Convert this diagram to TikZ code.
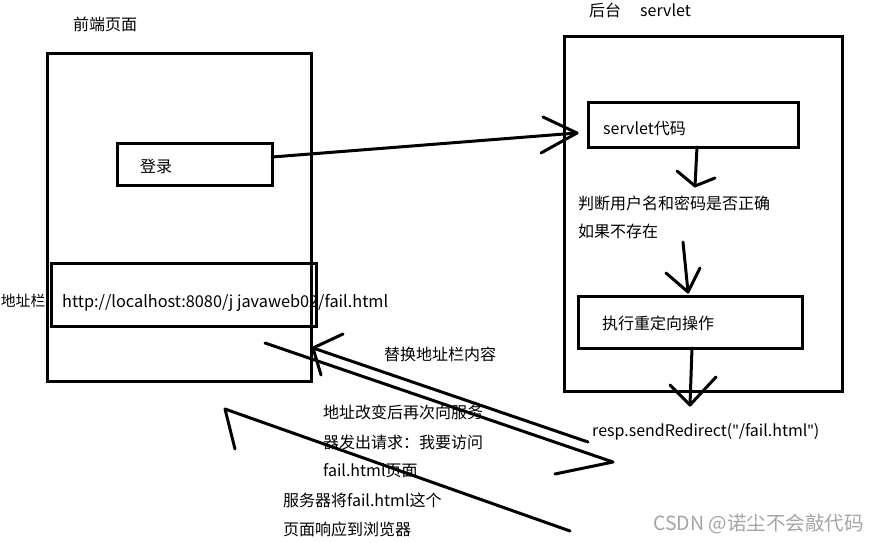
\documentclass[tikz,border=0pt]{standalone}
\usepackage{fontspec}
\setmainfont{Noto Sans CJK SC}
\newfontfamily\qfont{Noto Sans}
\definecolor{wmgray}{RGB}{165,165,165}
\begin{document}
\begin{tikzpicture}[x=1pt,y=-1pt,
  box/.style={draw, line width=3pt, inner sep=0pt},
  lbl/.style={inner sep=0pt, anchor=west, text height=12pt, text depth=0pt, font=\fontsize{16}{19}\selectfont},
  pen/.style={line width=3pt, line cap=round, line join=round}]
\useasboundingbox (0,0) rectangle (878,543);
\fill[white] (0,0) rectangle (878,543);
% boxes
\node[box, minimum width=264pt, minimum height=327pt] (front) at (179,217.5) {};
\node[box, minimum width=155pt, minimum height=42pt] (login) at (194.5,164) {};
\node[box, minimum width=265pt, minimum height=63pt] (addr) at (183.5,294.5) {};
\node[box, minimum width=278pt, minimum height=354pt] (back) at (703,214) {};
\node[box, minimum width=210pt, minimum height=45pt] (scode) at (693,124.5) {};
\node[box, minimum width=224pt, minimum height=52pt] (redir) at (690,322) {};
% texts
\node[lbl] (tfront) at (73,25) {前端页面};
\node[lbl] (tback) at (589,11) {后台};
\node[lbl] (tservlet) at (640,11) {servlet};
\node[lbl] (tlogin) at (140,166) {登录};
\node[lbl] (tscode) at (603,128) {servlet代码};
\node[lbl] (tjudge) at (578,203) {判断用户名和密码是否正确};
\node[lbl] (tnot) at (578,231) {如果不存在};
\node[lbl] (tredir) at (602,323) {执行重定向操作};
\node[lbl] (tresp) at (592,430) {resp.sendRedirect({\qfont"}/fail.html{\qfont"})};
\node[lbl, anchor=east, font=\fontsize{14.8}{18}\selectfont] (taddr) at (45.5,300) {地址栏};
\node[lbl, font=\fontsize{16.3}{19}\selectfont] (turl) at (62,301) {http://localhost:8080/j javaweb02/fail.html};
\node[lbl] (treplace) at (384,354) {替换地址栏内容};
\node[lbl] (treq1) at (323,412) {地址改变后再次向服务};
\node[lbl] (treq2) at (323,442) {器发出请求：我要访问};
\node[lbl] (treq3) at (323,470) {fail.html页面};
\node[lbl] (tres1) at (283,500) {服务器将fail.html这个};
\node[lbl] (tres2) at (283,529) {页面响应到浏览器};
\node[inner sep=0pt, anchor=west, text height=14pt, text depth=0pt, text=wmgray, font=\fontsize{19.5}{22}\selectfont] (wm) at (653,523) {CSDN @诺尘不会敲代码};
% arrow points
\coordinate (a1s) at (272,157); \coordinate (a1t) at (577,133);
\coordinate (a1u) at (543,117); \coordinate (a1l) at (541,153);
\coordinate (a2s) at (697,147); \coordinate (a2t) at (695,186);
\coordinate (a2u) at (677,171); \coordinate (a2l) at (715,178);
\coordinate (a3s) at (683,242); \coordinate (a3t) at (688,292);
\coordinate (a3u) at (666,273); \coordinate (a3l) at (700,268);
\coordinate (a4s) at (692,348); \coordinate (a4t) at (690,405);
\coordinate (a4u) at (670,385); \coordinate (a4l) at (716,377);
\coordinate (b1s) at (588,442); \coordinate (b1t) at (313,348);
\coordinate (b1u) at (343,334); \coordinate (b1l) at (321,375);
\coordinate (b2s) at (265,343); \coordinate (b2t) at (613,462);
\coordinate (b2l) at (555,474);
\coordinate (c1s) at (570,531); \coordinate (c1t) at (225,409);
\coordinate (c1l) at (235,449);
% connectors
\draw[pen] (a1s) -- (a1t); \draw[pen] (a1u) -- (a1t) -- (a1l);
\draw[pen] (a2s) -- (a2t); \draw[pen] (a2u) -- (a2t) -- (a2l);
\draw[pen] (a3s) -- (a3t); \draw[pen] (a3u) -- (a3t) -- (a3l);
\draw[pen] (a4s) -- (a4t); \draw[pen] (a4u) -- (a4t) -- (a4l);
\draw[pen] (b1s) -- (b1t); \draw[pen] (b1u) -- (b1t) -- (b1l);
\draw[pen] (b2s) -- (b2t) -- (b2l);
\draw[pen] (c1s) -- (c1t) -- (c1l);
\end{tikzpicture}
\end{document}
